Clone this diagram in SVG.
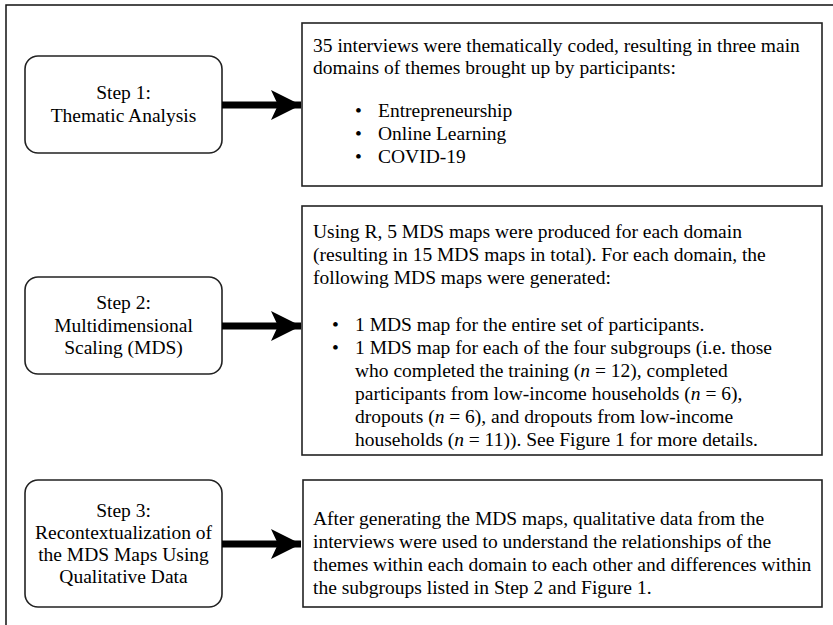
<svg xmlns="http://www.w3.org/2000/svg" width="833" height="625" viewBox="0 0 833 625">
<defs>
<style>
.frame{fill:none;stroke:#111;stroke-width:1.5}
.step{fill:#fff;stroke:#222;stroke-width:1.6}
.box{fill:#fff;stroke:#222;stroke-width:1.6}
text{font-family:"Liberation Serif","Times New Roman",serif;font-size:19.5px;fill:#000}
.c{text-anchor:middle}
.shaft{fill:none;stroke:#000;stroke-width:7}
.i{font-style:italic}
</style>
<marker id="ah" viewBox="0 0 30 30" refX="30" refY="15" markerWidth="30" markerHeight="30" markerUnits="userSpaceOnUse" orient="auto">
<path d="M0,0 L30,15 L0,30 L7,15 Z" fill="#000"/>
</marker>
</defs>
<rect width="833" height="625" fill="#fff"/>
<path class="frame" d="M6,625 V5 H833"/>

<g id="step1">
<rect class="step" x="25" y="56" width="197" height="97" rx="13"/>
<text class="c" x="123.5" y="99">Step 1:</text>
<text class="c" x="123.5" y="122">Thematic Analysis</text>
</g>

<g id="step2">
<rect class="step" x="25" y="277" width="197" height="97" rx="13"/>
<text class="c" x="123.5" y="309">Step 2:</text>
<text class="c" x="123.5" y="332">Multidimensional</text>
<text class="c" x="123.5" y="354">Scaling (MDS)</text>
</g>

<g id="step3">
<rect class="step" x="25" y="480" width="197" height="127" rx="13"/>
<text class="c" x="123.5" y="517">Step 3:</text>
<text class="c" x="123.5" y="539">Recontextualization of</text>
<text class="c" x="123.5" y="561">the MDS Maps Using</text>
<text class="c" x="123.5" y="583">Qualitative Data</text>
</g>

<g id="box1">
<rect class="box" x="302" y="23" width="520" height="163"/>
<text x="313" y="52">35 interviews were thematically coded, resulting in three main</text>
<text x="313" y="74">domains of themes brought up by participants:</text>
<text x="355" y="117">•</text><text x="378" y="117">Entrepreneurship</text>
<text x="355" y="140">•</text><text x="378" y="140">Online Learning</text>
<text x="355" y="163">•</text><text x="378" y="163">COVID-19</text>
</g>

<g id="box2">
<rect class="box" x="302" y="206" width="520" height="249"/>
<text x="313" y="238">Using R, 5 MDS maps were produced for each domain</text>
<text x="313" y="261">(resulting in 15 MDS maps in total). For each domain, the</text>
<text x="313" y="284">following MDS maps were generated:</text>
<text x="332" y="331">•</text><text x="355" y="331">1 MDS map for the entire set of participants.</text>
<text x="332" y="354">•</text><text x="355" y="354">1 MDS map for each of the four subgroups (i.e. those</text>
<text x="355" y="377">who completed the training (<tspan class="i">n</tspan> = 12), completed</text>
<text x="355" y="400">participants from low-income households (<tspan class="i">n</tspan> = 6),</text>
<text x="355" y="423">dropouts (<tspan class="i">n</tspan> = 6), and dropouts from low-income</text>
<text x="355" y="446">households (<tspan class="i">n</tspan> = 11)). See Figure 1 for more details.</text>
</g>

<g id="box3">
<rect class="box" x="303" y="480" width="519" height="127"/>
<text x="313" y="525">After generating the MDS maps, qualitative data from the</text>
<text x="313" y="548">interviews were used to understand the relationships of the</text>
<text x="313" y="571">themes within each domain to each other and differences within</text>
<text x="313" y="594">the subgroups listed in Step 2 and Figure 1.</text>
</g>

<g id="connectors">
<line class="shaft" x1="222" y1="105" x2="301" y2="105" marker-end="url(#ah)"/>
<line class="shaft" x1="222" y1="326" x2="301" y2="326" marker-end="url(#ah)"/>
<line class="shaft" x1="222" y1="544" x2="301" y2="544" marker-end="url(#ah)"/>
</g>
</svg>
